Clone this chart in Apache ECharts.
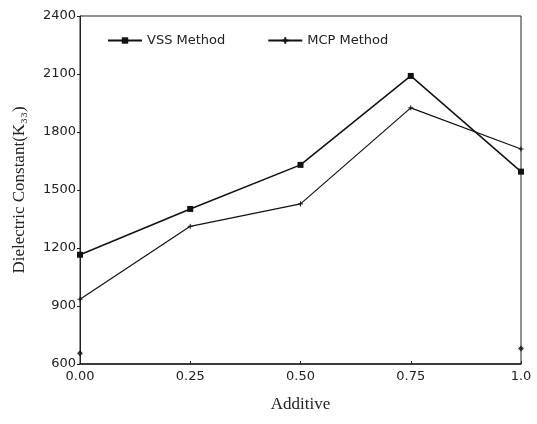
<!DOCTYPE html>
<html>
<head>
<meta charset="utf-8">
<script src="https://cdn.jsdelivr.net/npm/echarts@6/dist/echarts.min.js"></script>
<style>
  html, body { margin: 0; padding: 0; background: #fff; }
  #chart { width: 537px; height: 424px; }
</style>
</head>
<body>
<div id="chart"></div>
<script>
const additive = [0, 0.25, 0.5, 0.75, 1.0]
const xTickLabels = ['0.00', '0.25', '0.50', '0.75', '1.0']
const vssValues = [1165, 1402, 1630, 2090, 1595]
const mcpValues = [935, 1312, 1428, 1925, 1712]
// stray marks near the bottom axis in the scan
const strayX = [0, 1.0]
const strayY = [655, 680]

const pairs = (xs, ys) => xs.map((x, i) => [x, ys[i]])

const chart = echarts.init(document.getElementById('chart'))
chart.setOption({
  animation: false,
  textStyle: { fontFamily: 'DejaVu Sans' },
  grid: {
    left: 80, right: 16, top: 16, bottom: 60,
    show: true, borderColor: '#222', borderWidth: 1
  },
  legend: {
    left: 102, top: 29,
    itemWidth: 34, itemHeight: 8, itemGap: 42,
    data: ['VSS Method', 'MCP Method'],
    textStyle: { fontSize: 13, color: '#222' }
  },
  xAxis: {
    type: 'value',
    min: 0, max: 1, interval: 0.25,
    name: 'Additive',
    nameLocation: 'center',
    nameGap: 32,
    nameTextStyle: { fontFamily: 'Liberation Serif', fontSize: 17, color: '#222' },
    axisLine: { lineStyle: { color: '#222', width: 1.5 } },
    axisTick: { inside: true, length: 3, lineStyle: { color: '#222' } },
    splitLine: { show: false },
    axisLabel: {
      color: '#222', fontSize: 13, margin: 6,
      formatter: (v) => xTickLabels[additive.indexOf(v)]
    }
  },
  yAxis: {
    type: 'value',
    min: 600, max: 2400, interval: 300,
    name: 'Dielectric Constant(K\u2083\u2083)',
    nameLocation: 'center',
    nameGap: 52,
    nameTextStyle: { fontFamily: 'Liberation Serif', fontSize: 17, color: '#222' },
    axisLine: { show: true, lineStyle: { color: '#222', width: 1 } },
    axisTick: { show: true, length: 3, lineStyle: { color: '#222' } },
    splitLine: { show: false },
    axisLabel: { color: '#222', fontSize: 13, margin: 4, formatter: (v) => String(v) }
  },
  series: [
    {
      name: 'VSS Method',
      type: 'line',
      data: pairs(additive, vssValues),
      symbol: 'rect',
      symbolSize: 6,
      itemStyle: { color: '#111' },
      lineStyle: { color: '#111', width: 1.5 }
    },
    {
      name: 'MCP Method',
      type: 'line',
      data: pairs(additive, mcpValues),
      symbol: 'path://M0,4 L8,4 M4,0 L4,8',
      symbolSize: 5,
      itemStyle: { color: '#111', borderColor: '#111', borderWidth: 1 },
      lineStyle: { color: '#111', width: 1.2 }
    },
    {
      name: 'stray',
      type: 'scatter',
      data: pairs(strayX, strayY),
      symbol: 'diamond',
      symbolSize: 6,
      itemStyle: { color: '#111' }
    }
  ]
})
</script>
</body>
</html>
